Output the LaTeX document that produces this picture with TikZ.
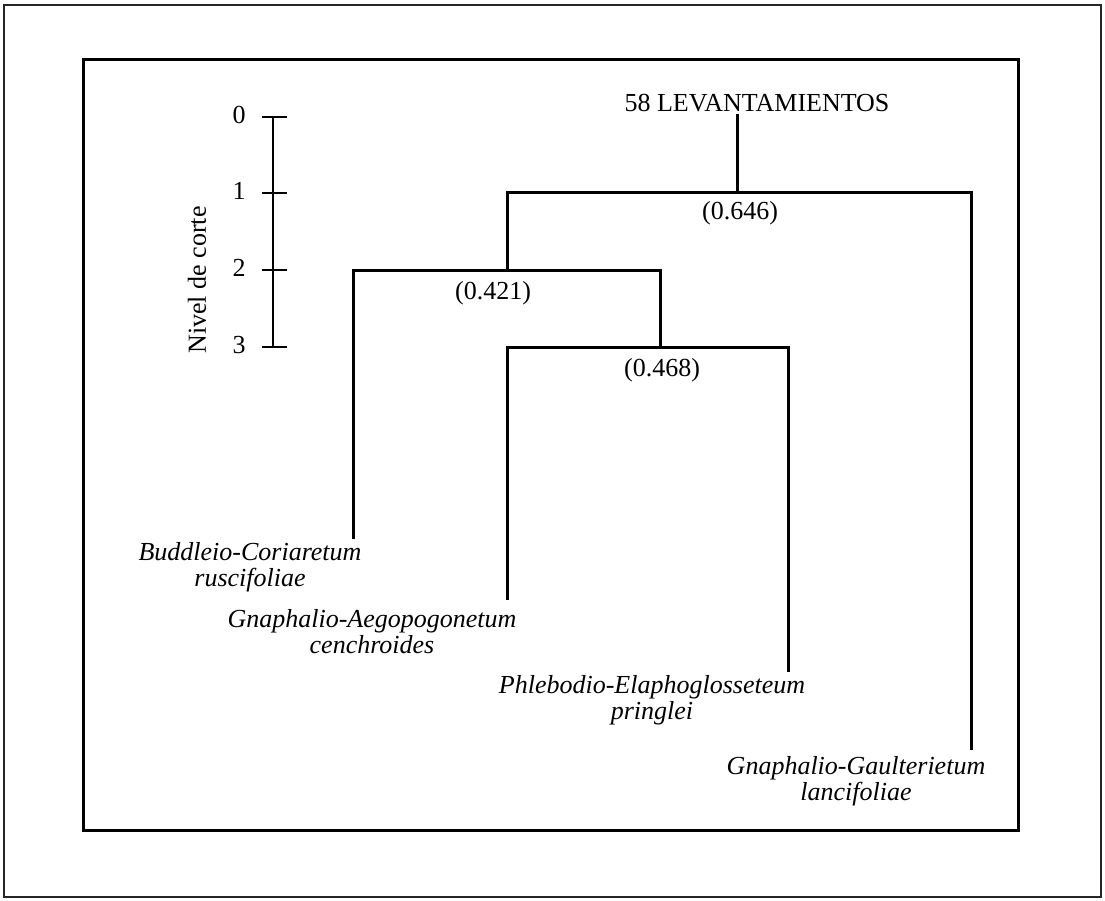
\documentclass[tikz,border=0pt]{standalone}
\usepackage{fontspec}
\setmainfont{Liberation Serif}
\begin{document}
\begin{tikzpicture}[x=1pt,y=-1pt,
		dend/.style={line width=3pt,line cap=rect},
		axis/.style={line width=2.8pt},
		txt/.style={inner sep=0pt,font={\fontsize{26}{26}\selectfont}},
		leaf/.style={txt,align=center,font={\fontsize{26}{26}\selectfont\itshape}}]
		\useasboundingbox (0,0) rectangle (1105,900);
		\draw[black!85,line width=1.4pt] (4,5) rectangle (1101,897);
		\draw[line width=3pt] (83,59) rectangle (1018,830);
		
		% escala de nivel de corte
		\foreach \y[count=\i from 0] in {117,193,270,347}{
			\coordinate (t\i) at (273,\y);
			\draw[axis] ([xshift=-11pt]t\i) -- ([xshift=14pt]t\i);
			\node[txt] (n\i) at (239,{\y-2}) {\i};
		}
		\draw[axis] (t0) -- (t3);
		\node[txt,rotate=90] (nivel) at (197,280) {Nivel de corte};
		
		% dendrograma
		\node[txt] (root) at (757,103) {58 LEVANTAMIENTOS};
		\coordinate (r0) at (737,115);
		\coordinate (j1) at (737,192);
		\coordinate (j2) at (507,270);
		\coordinate (j3) at (660,347);
		\coordinate (a) at (353,537);
		\coordinate (b) at (507,598);
		\coordinate (c) at (788,670);
		\coordinate (d) at (971,748);
		
		\draw[dend] (r0) -- (j1);
		\draw[dend] (j2) |- (j1) -| (d);
		\draw[dend] (a) |- (j2) -| (j3);
		\draw[dend] (b) |- (j3) -| (c);
		
		\node[txt] (v1) at (740,213) {(0.646)};
		\node[txt] (v2) at (493,293) {(0.421)};
		\node[txt] (v3) at (662,370) {(0.468)};
		
		\node[leaf] (la) at (250,567) {Buddleio-Coriaretum\\ruscifoliae};
		\node[leaf] (lb) at (372,632) {Gnaphalio-Aegopogonetum\\cenchroides};
		\node[leaf] (lc) at (652,700) {Phlebodio-Elaphoglosseteum\\pringlei};
		\node[leaf] (ld) at (856,781) {Gnaphalio-Gaulterietum\\lancifoliae};
\end{tikzpicture}
\end{document}
